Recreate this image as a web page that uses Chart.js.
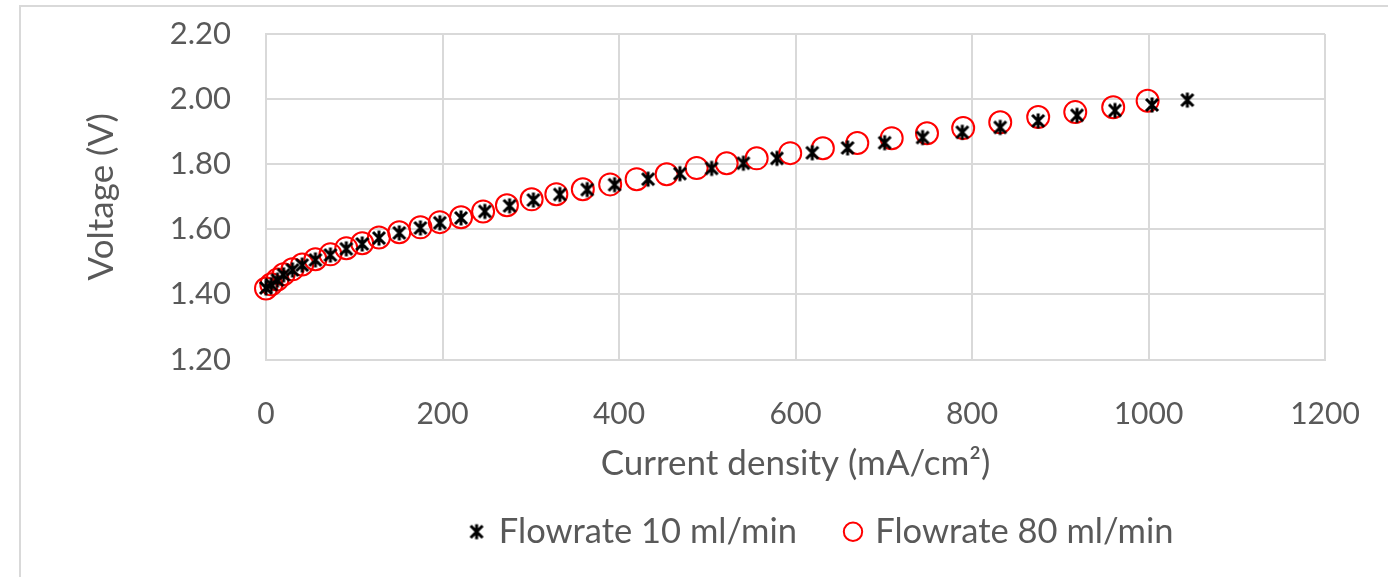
<!DOCTYPE html>
<html>
<head>
<meta charset="utf-8">
<script src="https://cdn.jsdelivr.net/npm/chart.js@4.4.0/dist/chart.umd.min.js"></script>
<style>
    html, body { margin: 0; padding: 0; background: #fff; overflow: hidden; }
    #frame { position: absolute; left: 19px; top: 5px; width: 1400px; height: 600px; border: 2px solid #d9d9d9; }
    #myChart { position: absolute; left: 0; top: 0; }
</style>
</head>
<body>
<div id="frame"></div>
<canvas id="myChart" width="1388" height="577"></canvas>
<script>
// Flowrate 10 ml/min
const current10 = [0, 6, 13, 20, 30, 41, 56, 73, 91, 109, 128, 151, 175, 197, 221,
    248, 276, 303, 333, 364, 395, 433, 469, 505, 541, 579, 619, 659, 701, 744,
    789, 832, 875, 919, 962, 1004, 1044];
const voltage10 = [1.420, 1.430, 1.444, 1.460, 1.475, 1.490, 1.506, 1.521, 1.540, 1.555,
    1.573, 1.589, 1.604, 1.620, 1.635, 1.655, 1.672, 1.690, 1.707, 1.722, 1.737,
    1.754, 1.771, 1.787, 1.803, 1.818, 1.835, 1.850, 1.866, 1.882, 1.898, 1.913,
    1.933, 1.950, 1.965, 1.982, 1.997];

// Flowrate 80 ml/min
const current80 = [0, 6, 13, 20, 30, 41, 56, 73, 91, 109, 128, 151, 175, 197, 221,
    246, 273, 301, 329, 359, 390, 420, 454, 488, 522, 556, 594, 631, 670, 709,
    749, 790, 832, 875, 917, 960, 999];
const voltage80 = [1.418, 1.431, 1.446, 1.462, 1.477, 1.492, 1.508, 1.523, 1.542, 1.557,
    1.575, 1.591, 1.606, 1.622, 1.637, 1.655, 1.674, 1.692, 1.708, 1.723, 1.738,
    1.754, 1.769, 1.788, 1.803, 1.818, 1.834, 1.849, 1.865, 1.880, 1.895, 1.911,
    1.929, 1.945, 1.960, 1.975, 1.995];

const xTicks = [0, 200, 400, 600, 800, 1000, 1200];
const yTicks = [1.2, 1.4, 1.6, 1.8, 2.0, 2.2];

const textColor = '#595959';
const gridColor = '#d9d9d9';

// excel style star marker (x + vertical bar)
function makeStar() {
    const c = document.createElement('canvas');
    c.width = 18;
    c.height = 18;
    const g = c.getContext('2d');
    g.strokeStyle = '#000';
    g.lineWidth = 3;
    g.beginPath();
    g.moveTo(3, 3); g.lineTo(15, 15);
    g.moveTo(15, 3); g.lineTo(3, 15);
    g.moveTo(9, 1.5); g.lineTo(9, 16.5);
    g.stroke();
    return c;
}
const starMarker = makeStar();

function toPoints(xs, ys) {
    return xs.map((x, i) => ({ x: x, y: ys[i] }));
}

// move the legend under the plot like excel does
const legendNudge = {
    id: 'legendNudge',
    afterLayout(chart) {
        const lg = chart.legend;
        lg.left += 27; lg.right += 27;
        lg.top -= 18; lg.bottom -= 18;
    }
};

var ctx = document.getElementById("myChart");
var myChart = new Chart(ctx, {
    type: 'scatter',
    data: {
        datasets: [{
            label: 'Flowrate 10 ml/min',
            data: toPoints(current10, voltage10),
            pointStyle: starMarker,
            pointRadius: 9,
            borderColor: '#000',
            backgroundColor: '#000',
            clip: false
        }, {
            label: 'Flowrate 80 ml/min',
            data: toPoints(current80, voltage80),
            pointStyle: 'circle',
            pointRadius: 11,
            borderWidth: 2,
            borderColor: '#ff0000',
            backgroundColor: 'rgba(0,0,0,0)',
            clip: false
        }]
    },
    options: {
        responsive: false,
        animation: false,
        layout: { padding: { top: 34, left: 0, right: 63, bottom: 0 } },
        plugins: {
            legend: {
                position: 'bottom',
                fullSize: false,
                labels: {
                    usePointStyle: true,
                    boxWidth: 10,
                    boxHeight: 13,
                    padding: 51,
                    color: textColor,
                    font: { family: 'Lato', size: 34.5 }
                }
            },
            tooltip: { enabled: false }
        },
        scales: {
            x: {
                type: 'linear',
                min: 0,
                max: 1200,
                afterBuildTicks: s => { s.ticks = xTicks.map(v => ({ value: v })); },
                afterFit: s => {
                    s.height = 122;
                    s.paddingLeft = 0;
                    s.paddingRight = 0;
                },
                grid: { color: gridColor, lineWidth: 2, drawTicks: false },
                border: { color: gridColor, width: 2 },
                ticks: {
                    color: textColor,
                    font: { family: 'Lato', size: 30 },
                    padding: 37,
                    maxRotation: 0,
                    autoSkip: false,
                    callback: v => String(v)
                },
                title: {
                    display: true,
                    text: 'Current density (mA/cm²)',
                    color: textColor,
                    font: { family: 'Lato', size: 35, lineHeight: 1 },
                    padding: { top: 0, bottom: 0 }
                }
            },
            y: {
                type: 'linear',
                min: 1.2,
                max: 2.2,
                afterBuildTicks: s => { s.ticks = yTicks.map(v => ({ value: v })); },
                afterFit: s => {
                    s.width = 266;
                    s.paddingTop = 0;
                    s.paddingBottom = 0;
                },
                grid: { color: gridColor, lineWidth: 2, drawTicks: false },
                border: { color: gridColor, width: 2 },
                ticks: {
                    color: textColor,
                    font: { family: 'Lato', size: 31 },
                    padding: 35,
                    callback: v => v.toFixed(2)
                },
                title: {
                    display: true,
                    text: 'Voltage (V)',
                    color: textColor,
                    font: { family: 'Lato', size: 35, lineHeight: 1 },
                    padding: { top: 84, bottom: 0 }
                }
            }
        }
    },
    plugins: [legendNudge]
});
</script>
</body>
</html>
